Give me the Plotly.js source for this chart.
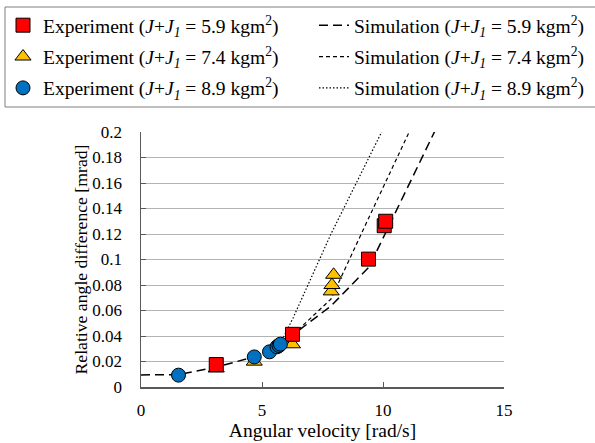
<!DOCTYPE html>
<html>
<head>
<meta charset="utf-8">
<script src="https://cdn.plot.ly/plotly-3.0.1.min.js"></script>
<style>html,body{margin:0;padding:0;background:#fff;}#chart{width:595px;height:443px;}</style>
</head>
<body>
<div id="chart"></div>
<script>
// Experimental data
var exp59X = [3.11, 6.26, 9.40, 10.05, 10.11];
var exp59Y = [0.0176, 0.0413, 0.1003, 0.1265, 0.130];
var exp74X = [3.11, 4.68, 6.26, 7.86, 7.89, 7.96];
var exp74Y = [0.0145, 0.0199, 0.0335, 0.075, 0.080, 0.088];
var exp89X = [1.55, 4.68, 5.31, 5.62, 5.70, 5.76];
var exp89Y = [0.0093, 0.0236, 0.0276, 0.0315, 0.0325, 0.0336];
// Simulation curves
var sim59X = [0, 1.57, 3.14, 4.71, 6.28, 7.85, 9.42, 10.99, 12.57];
var sim59Y = [0.0095, 0.0097, 0.0158, 0.0238, 0.041, 0.0635, 0.094, 0.156, 0.2175];
var sim74X = [6.28, 7.85, 9.42, 10.99, 12.57];
var sim74Y = [0.041, 0.069, 0.133, 0.196, 0.26];
var sim89X = [5.76, 6.28, 7.85, 9.42, 10.99];
var sim89Y = [0.034, 0.054, 0.12, 0.18, 0.24];
// Labels
var expNames = [
  'Experiment (<i>J</i>+<i>J<sub>1</sub></i> = 5.9 kgm<sup>2</sup>)',
  'Experiment (<i>J</i>+<i>J<sub>1</sub></i> = 7.4 kgm<sup>2</sup>)',
  'Experiment (<i>J</i>+<i>J<sub>1</sub></i> = 8.9 kgm<sup>2</sup>)'
];
var simNames = [
  'Simulation (<i>J</i>+<i>J<sub>1</sub></i> = 5.9 kgm<sup>2</sup>)',
  'Simulation (<i>J</i>+<i>J<sub>1</sub></i> = 7.4 kgm<sup>2</sup>)',
  'Simulation (<i>J</i>+<i>J<sub>1</sub></i> = 8.9 kgm<sup>2</sup>)'
];
var xTitle = 'Angular velocity [rad/s]';
var yTitle = 'Relative angle difference [mrad]';
var xTicks = [0, 5, 10, 15];
var yTicks = [0, 0.02, 0.04, 0.06, 0.08, 0.1, 0.12, 0.14, 0.16, 0.18, 0.2];

var FONT = 'Liberation Serif';

var traces = [
  {x: sim59X, y: sim59Y, mode: 'lines', name: simNames[0], legend: 'legend2', legendgroup: 's1', legendrank: 1,
   line: {color: '#000', width: 1.5, dash: '9px,5px'}},
  {x: sim74X, y: sim74Y, mode: 'lines', name: simNames[1], legend: 'legend2', legendgroup: 's2', legendrank: 2,
   line: {color: '#000', width: 1.2, dash: '4px,3px'}},
  {x: sim89X, y: sim89Y, mode: 'lines', name: simNames[2], legend: 'legend2', legendgroup: 's3', legendrank: 3,
   line: {color: '#000', width: 1.2, dash: '1.5px,2px'}},
  {x: exp74X, y: exp74Y, mode: 'markers', name: expNames[1], legend: 'legend', legendgroup: 'e2', legendrank: 2,
   marker: {symbol: 'triangle-up', size: 14, color: '#FFC000', line: {color: '#000', width: 1}}},
  {x: exp59X, y: exp59Y, mode: 'markers', name: expNames[0], legend: 'legend', legendgroup: 'e1', legendrank: 1,
   marker: {symbol: 'square', size: 14, color: '#FF0000', line: {color: '#000', width: 1}}},
  {x: exp89X, y: exp89Y, mode: 'markers', name: expNames[2], legend: 'legend', legendgroup: 'e3', legendrank: 3,
   marker: {symbol: 'circle', size: 14, color: '#0070C0', line: {color: '#000', width: 1}}}
];

var legendBase = {
  xref: 'container', yref: 'container', xanchor: 'left', yanchor: 'top',
  orientation: 'v', bgcolor: 'rgba(0,0,0,0)', borderwidth: 0,
  tracegroupgap: 3, itemsizing: 'trace',
  font: {family: FONT, size: 19.5, color: '#000'}
};

var layout = {
  width: 595, height: 443,
  margin: {l: 141, r: 91, t: 132, b: 56, autoexpand: false},
  paper_bgcolor: '#fff', plot_bgcolor: '#fff',
  font: {family: FONT, size: 17, color: '#000'},
  showlegend: true,
  legend: Object.assign({}, legendBase, {x: 3 / 595, y: 1 - 6 / 443}),
  legend2: Object.assign({}, legendBase, {x: 314 / 595, y: 1 - 6 / 443}),
  xaxis: {
    range: [0, 15], tickvals: xTicks, ticktext: xTicks.map(String),
    showgrid: false, zeroline: false, showline: true, linecolor: '#595959', linewidth: 1.5,
    ticks: 'inside', ticklen: 5, tickwidth: 1, tickcolor: '#595959', automargin: false,
    tickfont: {family: FONT, size: 17, color: '#000'}, ticklabelstandoff: 7,
    title: {text: xTitle, font: {family: FONT, size: 19.5, color: '#000'}, standoff: 4}
  },
  yaxis: {
    range: [0, 0.2], tickvals: yTicks, ticktext: yTicks.map(String),
    showgrid: true, gridcolor: '#b3b3b3', gridwidth: 1, zeroline: false,
    showline: true, linecolor: '#595959', linewidth: 1.5, automargin: false,
    ticks: 'inside', ticklen: 5, tickwidth: 1, tickcolor: '#595959',
    tickfont: {family: FONT, size: 17, color: '#000'}, ticklabelstandoff: 14,
    title: {text: ''}
  },
  annotations: [{
    text: yTitle, xref: 'paper', yref: 'paper', x: (80 - 141) / 363, y: 0.5,
    xanchor: 'center', yanchor: 'middle', textangle: -90, showarrow: false,
    font: {family: FONT, size: 17.7, color: '#000'}
  }],
  shapes: [{
    type: 'rect', xref: 'paper', yref: 'paper',
    x0: (5 - 141) / 363, x1: (600 - 141) / 363,
    y0: (387 - 107) / 255, y1: (387 - 7) / 255,
    line: {color: '#7f7f7f', width: 1}, fillcolor: 'rgba(0,0,0,0)'
  }]
};

Plotly.newPlot('chart', traces, layout, {displayModeBar: false, staticPlot: true});
</script>
</body>
</html>
